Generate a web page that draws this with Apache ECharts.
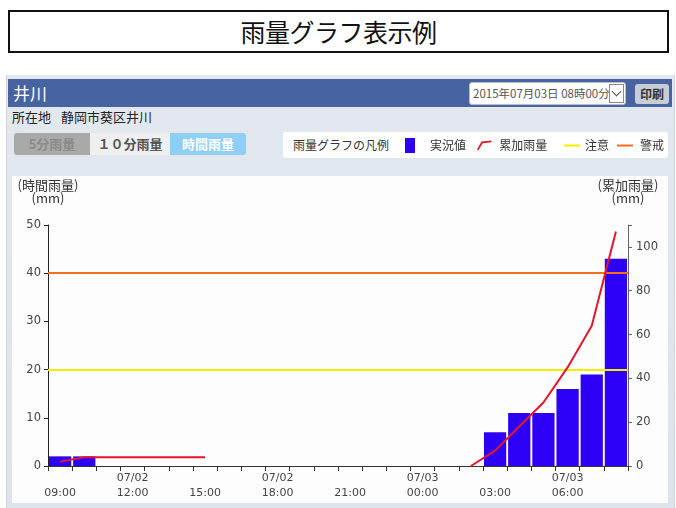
<!DOCTYPE html>
<html>
<head>
<meta charset="utf-8">
<script src="https://cdn.jsdelivr.net/npm/echarts@6/dist/echarts.min.js"></script>
<style>
  html, body { margin: 0; padding: 0; background: #fff; width: 676px; height: 508px; overflow: hidden;
    font-family: "Noto Sans CJK JP", "Noto Sans", sans-serif; }
  .abs { position: absolute; box-sizing: border-box; }
  #title { left: 8px; top: 10px; width: 661px; height: 43px; border: 2px solid #111; text-align: center;
    font-size: 25px; line-height: 39px; color: #111; letter-spacing: -0.5px; }
  #panel { left: 6px; top: 75px; width: 669px; height: 433px; background: linear-gradient(#e3e8ef, #dde4ec);
    border-left: 1px solid #cdd4de; border-right: 1px solid #cdd4de; }
  #header { left: 8px; top: 79px; width: 664px; height: 28px; background: #4763a2; }
  #station { left: 13px; top: 80px; color: #fff; font-size: 17px; line-height: 26px; }
  #picker { left: 469px; top: 82px; width: 157px; height: 23px; background: #fff; border: 1px solid #b8bfca;
    border-radius: 3px; font-size: 11.5px; color: #555; line-height: 21px; padding-left: 3px; }
  #arrow { right: 1px; top: 1px; width: 15px; height: 19px; border: 1px solid #8a8a8a; background: #fff; }
  #arrow::after { content: ""; position: absolute; left: 3px; top: 3px; width: 6px; height: 6px;
    border-right: 1.5px solid #555; border-bottom: 1.5px solid #555; transform: rotate(45deg); }
  #print { left: 635px; top: 84px; width: 34px; height: 20px; background: #c7cdd7; border-radius: 3px;
    font-size: 12px; font-weight: bold; color: #333; text-align: center; line-height: 20px; }
  #place { left: 12px; top: 108px; font-size: 13px; color: #222; line-height: 18px; }
  .btn { top: 133px; height: 22px; font-size: 13px; font-weight: bold; text-align: center; line-height: 22px; }
  #b5 { left: 14px; width: 76px; background: #a9a9a9; color: #8b8b8b; border-radius: 3px 0 0 3px; }
  #b10 { left: 90px; width: 80px; background: #efefef; color: #555; }
  #bh { left: 170px; width: 76px; background: #8fcff7; color: #fff; border-radius: 0 3px 3px 0; }
  #legendBox { left: 283px; top: 132px; width: 385px; height: 26px; background: #fff; border-radius: 3px; }
  #legendTitle { left: 293px; top: 137px; font-size: 12px; color: #333; line-height: 16px; }
  #plotBg { left: 12px; top: 176px; width: 656px; height: 327px; background: #fdfdfe; }
  #chart { position: absolute; left: 0; top: 0; width: 676px; height: 508px; z-index: 2; }
</style>
</head>
<body>
<div class="abs" id="title">雨量グラフ表示例</div>
<div class="abs" id="panel"></div>
<div class="abs" id="header"></div>
<div class="abs" id="station">井川</div>
<div class="abs" id="picker">2015年07月03日 08時00分<div class="abs" id="arrow"></div></div>
<div class="abs" id="print">印刷</div>
<div class="abs" id="place">所在地<span style="margin-left:10px">静岡市葵区井川</span></div>
<div class="abs btn" id="b5">5分雨量</div>
<div class="abs btn" id="b10">１０分雨量</div>
<div class="abs btn" id="bh">時間雨量</div>
<div class="abs" id="legendBox"></div>
<div class="abs" id="legendTitle">雨量グラフの凡例</div>
<div class="abs" id="plotBg"></div>
<div id="chart"></div>
<script>
// Hourly observation slots, 2015-07-02 09:00 through 2015-07-03 08:00
const hours = ['09:00', '10:00', '11:00', '12:00', '13:00', '14:00', '15:00', '16:00',
  '17:00', '18:00', '19:00', '20:00', '21:00', '22:00', '23:00', '00:00',
  '01:00', '02:00', '03:00', '04:00', '05:00', '06:00', '07:00', '08:00'];
const dates = ['07/02', '07/02', '07/02', '07/02', '07/02', '07/02', '07/02', '07/02',
  '07/02', '07/02', '07/02', '07/02', '07/02', '07/02', '07/02', '07/03',
  '07/03', '07/03', '07/03', '07/03', '07/03', '07/03', '07/03', '07/03'];

// 時間雨量 (mm)
const hourlyRain = [2, 2, 0, 0, 0, 0, 0, 0, 0, 0, 0, 0, 0, 0, 0, 0, 0, 0, 7, 11, 11, 16, 19, 43];
// 累加雨量 (mm); null where the accumulation is not running
const cumulativeRain = [2, 4, 4, 4, 4, 4, 4, null, null, null, null, null, null, null, null, null,
  null, 0, 7, 18, 29, 45, 64, 107];
// Alert thresholds on the hourly axis (mm)
const cautionLevel = 20;
const warningLevel = 40;

const hourlyTicks = { min: 0, max: 50, interval: 10 };
const cumulativeTicks = { min: 0, max: 110, interval: 20, lastLabel: 100 };
const dateMarks = ['00:00', '06:00', '12:00', '18:00'];

const categories = hours.map((h, i) => dates[i] + ' ' + h);

const numFont = 'DejaVu Sans';
const jpFont = 'Noto Sans CJK JP';

const chart = echarts.init(document.getElementById('chart'), null, { renderer: 'canvas' });

function legendAt(name, icon, left, top, w, h, textPad) {
  return {
    data: [{ name: name, icon: icon }],
    left: left, top: top, itemWidth: w, itemHeight: h, padding: 0,
    selectedMode: false, orient: 'horizontal',
    textStyle: { fontFamily: jpFont, fontSize: 12, color: '#333', lineHeight: 16, padding: textPad }
  };
}

chart.setOption({
  animation: false,
  backgroundColor: 'transparent',
  legend: [
    legendAt('実況値', 'rect', 405, 137.5, 10, 15, [0, 0, 0, 10]),
    legendAt('累加雨量', 'path://M0,10 L5,1.2 L16,0 L16,1.8 L6.2,2.9 L1.4,11 Z', 477, 137.5, 16, 10, [0, 0, 0, 2]),
    legendAt('注意', 'rect', 564, 137.5, 16, 2, [0, 0, 0, 0]),
    legendAt('警戒', 'rect', 617, 137.5, 16, 2, [0, 0, 0, 2])
  ],
  grid: { left: 48, right: 48, top: 225, bottom: 42, containLabel: false },
  xAxis: {
    type: 'category',
    data: categories,
    boundaryGap: true,
    axisLine: { lineStyle: { color: '#333', width: 1 } },
    axisTick: { show: true, interval: 0, length: 5, lineStyle: { color: '#333' } },
    axisLabel: {
      interval: 2,
      margin: 5,
      fontFamily: numFont,
      fontSize: 11,
      lineHeight: 15,
      color: '#444',
      formatter: function (value, index) {
        const h = hours[index];
        const top = dateMarks.indexOf(h) >= 0 ? dates[index] : ' ';
        return top + '\n' + h;
      }
    },
    splitLine: { show: false }
  },
  yAxis: [
    {
      type: 'value',
      min: hourlyTicks.min, max: hourlyTicks.max, interval: hourlyTicks.interval,
      name: '(時間雨量)\n(mm)',
      nameLocation: 'end',
      nameGap: 20,
      nameTextStyle: { fontFamily: jpFont, fontSize: 13, lineHeight: 13, color: '#333', align: 'center' },
      axisLine: { show: true, lineStyle: { color: '#222', width: 1 } },
      axisTick: { show: true, length: 4, lineStyle: { color: '#222' } },
      axisLabel: { margin: 7, fontFamily: numFont, fontSize: 11.5, color: '#444' },
      splitLine: { show: false }
    },
    {
      type: 'value',
      position: 'right',
      min: cumulativeTicks.min, max: cumulativeTicks.max, interval: cumulativeTicks.interval,
      name: '(累加雨量)\n(mm)',
      nameLocation: 'end',
      nameGap: 20,
      nameTextStyle: { fontFamily: jpFont, fontSize: 13, lineHeight: 13, color: '#333', align: 'center' },
      axisLine: { show: true, lineStyle: { color: '#666', width: 1 } },
      axisTick: { show: true, length: 4, lineStyle: { color: '#666' } },
      axisLabel: {
        margin: 8, fontFamily: numFont, fontSize: 11.5, color: '#444',
        formatter: v => (v > cumulativeTicks.lastLabel ? '' : String(v))
      },
      splitLine: { show: false }
    }
  ],
  series: [
    {
      name: '実況値',
      type: 'bar',
      yAxisIndex: 0,
      data: hourlyRain,
      barCategoryGap: '8%',
      itemStyle: { color: '#2d00f5' },
      z: 2
    },
    {
      name: '注意',
      type: 'line',
      yAxisIndex: 0,
      data: [],
      color: '#f3ee00',
      z: 3,
      markLine: {
        silent: true, symbol: 'none', label: { show: false },
        lineStyle: { color: '#f3ee00', width: 2, type: 'solid' },
        data: [{ yAxis: cautionLevel }]
      }
    },
    {
      name: '警戒',
      type: 'line',
      yAxisIndex: 0,
      data: [],
      color: '#f07020',
      z: 3,
      markLine: {
        silent: true, symbol: 'none', label: { show: false },
        lineStyle: { color: '#f07020', width: 2, type: 'solid' },
        data: [{ yAxis: warningLevel }]
      }
    },
    {
      name: '累加雨量',
      type: 'line',
      yAxisIndex: 1,
      data: cumulativeRain,
      connectNulls: false,
      showSymbol: false,
      symbol: 'none',
      color: '#e5162c',
      lineStyle: { color: '#e5162c', width: 2 },
      z: 5
    }
  ]
});
</script>
</body>
</html>
